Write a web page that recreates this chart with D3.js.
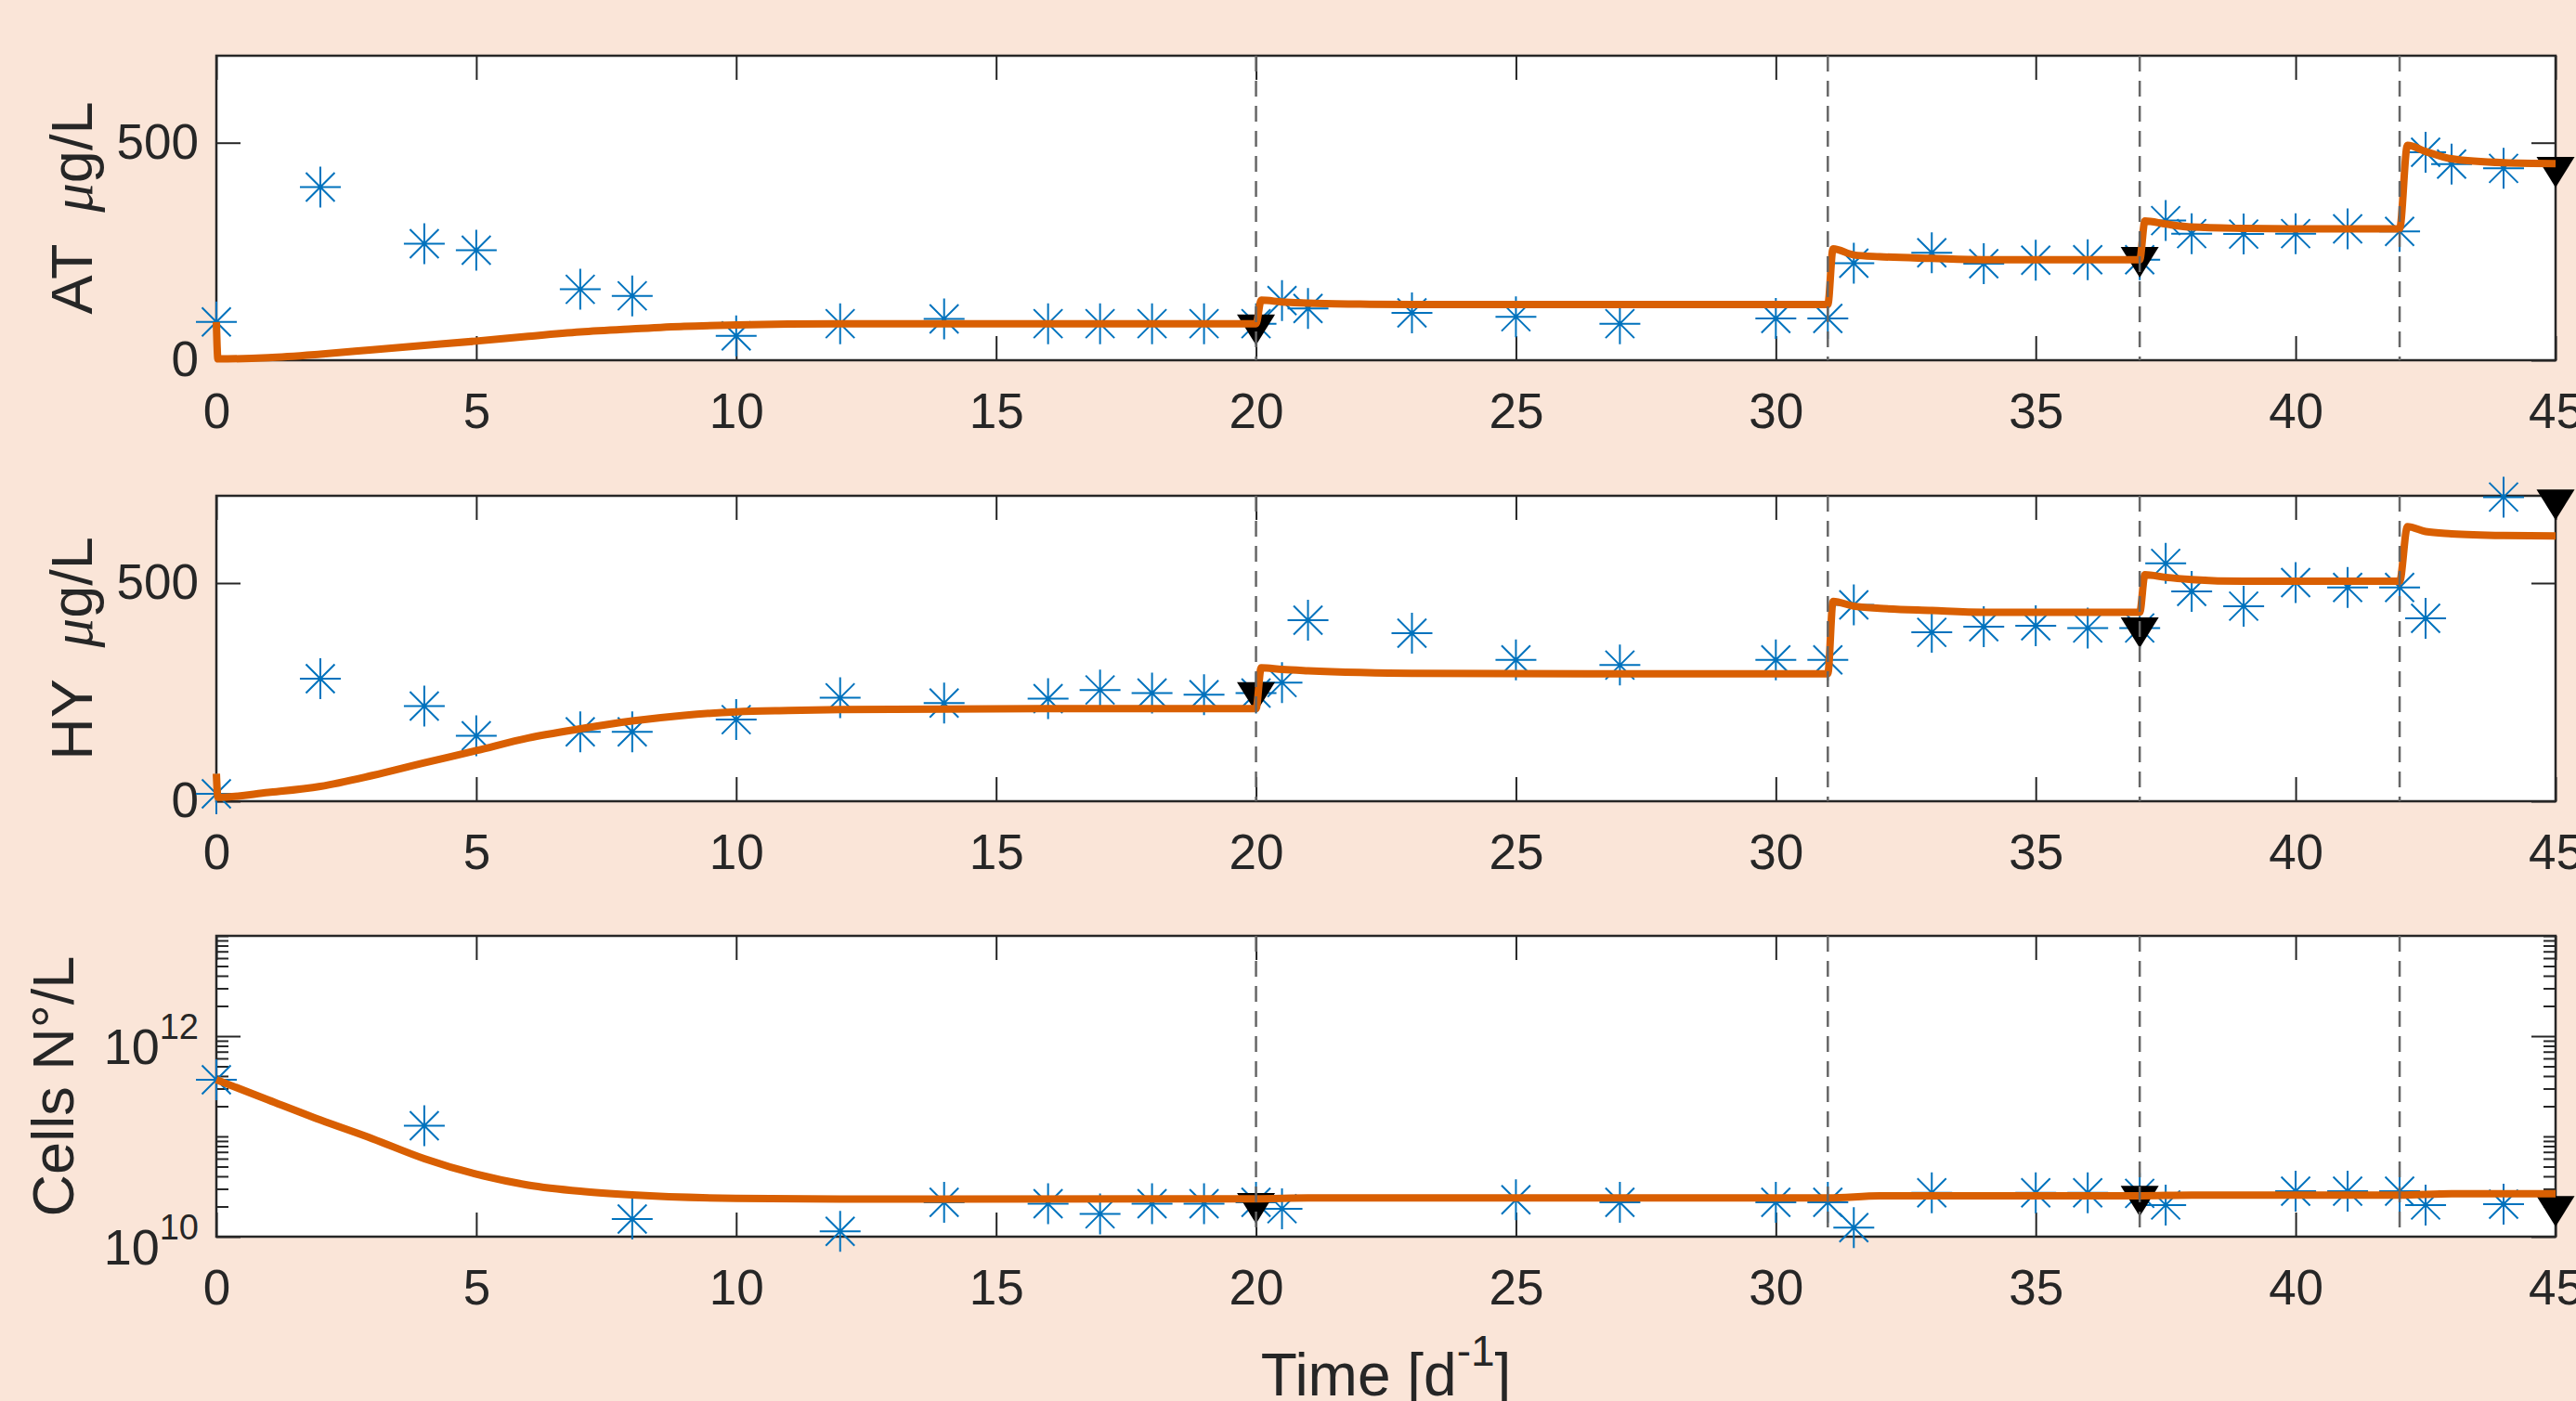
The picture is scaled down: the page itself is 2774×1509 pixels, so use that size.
<!DOCTYPE html>
<html>
<head>
<meta charset="utf-8">
<script src="https://cdn.jsdelivr.net/npm/d3@7"></script>
<style>
    body { margin: 0; background: #fae5d8; }
    svg { display: block; }
</style>
</head>
<body>
<svg id="chart" width="2774" height="1509"></svg>
<script>

// ---- data ----
var xTicks = [0, 5, 10, 15, 20, 25, 30, 35, 40, 45];
var linTicks = [0, 500];
var logTicks = [1e10, 1e12];
var logTickExp = ["10", "12"];

var doseTime = [20, 31, 37, 42];
var harvestTime = [20, 37, 45];

var atTime = [0, 2, 4, 5, 7, 8, 10, 12, 14, 16, 17, 18, 19, 20, 20.5, 21, 23, 25, 27, 30, 31, 31.5, 33, 34, 35, 36, 37, 37.5, 38, 39, 40, 41, 42, 42.5, 43, 44];
var atValue = [88, 398, 268, 253, 163, 148, 56, 84, 95, 84, 84, 84, 84, 84, 137, 119, 109, 100, 84, 96, 96, 223, 247, 222, 230, 231, 231, 321, 291, 290, 291, 302, 296, 478, 451, 441];
var atHarvest = [70, 225, 432];
var atModel = [[0, 88], [0.03, 3], [1, 6], [2, 14], [3, 24], [4, 34], [5, 44], [6, 55], [7, 65], [8, 72], [9, 78], [10, 81], [11, 83], [12, 84], [16, 84], [20, 84],
    [20.1, 138], [20.5, 134], [21, 131], [22, 129], [23, 128], [27, 128], [31, 128],
    [31.1, 256], [31.5, 242], [32, 238], [33, 234], [34, 231], [37, 231],
    [37.1, 320], [37.5, 313], [38, 306], [39, 303], [40, 302], [42, 302],
    [42.15, 494], [42.5, 480], [43, 463], [44, 454], [45, 452]];

var hyTime = [0, 2, 4, 5, 7, 8, 10, 12, 14, 16, 17, 18, 19, 20, 20.5, 21, 23, 25, 27, 30, 31, 31.5, 33, 34, 35, 36, 37, 37.5, 38, 39, 40, 41, 42, 42.5, 44];
var hyValue = [17, 281, 218, 150, 159, 159, 187, 237, 225, 235, 255, 248, 244, 248, 272, 415, 385, 324, 312, 324, 324, 450, 387, 400, 402, 397, 397, 545, 481, 447, 501, 490, 490, 419, 697];
var hyHarvest = [238, 386, 679];
var hyModel = [[0, 63], [0.03, 9], [1, 20], [2, 34], [3, 59], [4, 88], [5, 116], [6, 145], [7, 166], [8, 184], [9, 197], [10, 205], [11, 208], [12, 210], [16, 212], [20, 212],
    [20.1, 306], [20.5, 302], [21, 299], [22, 295], [23, 293], [27, 292], [31, 292],
    [31.1, 458], [31.5, 447], [32, 442], [33, 437], [34, 433], [37, 433],
    [37.1, 519], [37.5, 513], [38, 508], [39, 504], [42, 504],
    [42.15, 629], [42.5, 618], [43, 613], [44, 609], [45, 608]];

var cellTime = [0, 4, 8, 12, 14, 16, 17, 18, 19, 20, 20.5, 25, 27, 30, 31, 31.5, 33, 35, 36, 37, 37.5, 40, 41, 42, 42.5, 44];
var cellValue = [3.67e11, 1.28e11, 1.5e10, 1.13e10, 2.2e10, 2.13e10, 1.69e10, 2.13e10, 2.13e10, 2.2e10, 1.9e10, 2.33e10, 2.2e10, 2.2e10, 2.2e10, 1.23e10, 2.74e10, 2.74e10, 2.74e10, 2.7e10, 2.07e10, 2.84e10, 2.84e10, 2.84e10, 2.07e10, 2.11e10];
var cellHarvest = [1.92e10, 2.26e10, 1.79e10];
var cellModel = [[0, 3.67e11], [1, 2.31e11], [2, 1.46e11], [3, 9.5e10], [4, 6.0e10], [5, 4.2e10], [6, 3.27e10], [7, 2.84e10], [8, 2.61e10], [10, 2.41e10], [12, 2.37e10], [20, 2.38e10],
    [21, 2.43e10], [31, 2.43e10], [32, 2.55e10], [37, 2.56e10], [38, 2.6e10], [42, 2.6e10], [43, 2.68e10], [45, 2.68e10]];

// ---- layout ----
var plotLeft = 233, plotRight = 2752;
var FONT = "'Liberation Sans', Arial, Helvetica, sans-serif";
var INK = "#262626";

var svg = d3.select("#chart");
svg.append("rect").attr("width", 2774).attr("height", 1509).attr("fill", "#fae5d8");

Panel = function(_svg, _opts) {
    this.svg = _svg;
    this.opts = _opts;
    this.initVis();
}

Panel.prototype.initVis = function() {
    var vis = this;
    var o = vis.opts;

    vis.x = d3.scaleLinear().domain([0, 45]).range([plotLeft, plotRight]);
    if (o.log) {
        vis.y = d3.scaleLog().domain(o.domain).range([o.bottom, o.top]);
    } else {
        vis.y = d3.scaleLinear().domain(o.domain).range([o.bottom, o.top]);
    }

    vis.g = vis.svg.append("g");

    // white plot area
    vis.g.append("rect")
        .attr("x", plotLeft).attr("y", o.top)
        .attr("width", plotRight - plotLeft).attr("height", o.bottom - o.top)
        .attr("fill", "#fff");

    vis.drawAxes();
    vis.updateVis();
}

Panel.prototype.drawAxes = function() {
    var vis = this;
    var o = vis.opts;

    function style(sel) {
        sel.selectAll(".domain").remove();
        sel.selectAll(".tick line").attr("stroke", INK).attr("stroke-width", 2);
        sel.attr("font-family", FONT).attr("font-size", 53);
        sel.selectAll("text").attr("fill", INK);
    }

    vis.g.append("g")
        .attr("transform", "translate(0," + o.bottom + ")")
        .call(d3.axisBottom(vis.x).tickValues(xTicks).tickSize(-26).tickPadding(35).tickFormat(d3.format("d")))
        .call(style);

    vis.g.append("g")
        .attr("transform", "translate(0," + o.top + ")")
        .call(d3.axisTop(vis.x).tickValues(xTicks).tickSize(-26).tickFormat(""))
        .call(style);

    if (o.log) {
        var minor = vis.y.ticks().filter(function(d) { return logTicks.indexOf(d) < 0; });

        [d3.axisLeft, d3.axisRight].forEach(function(ax, i) {
            var xpos = i === 0 ? plotLeft : plotRight;
            vis.g.append("g")
                .attr("transform", "translate(" + xpos + ",0)")
                .call(ax(vis.y).tickValues(minor).tickSize(-13).tickFormat(""))
                .call(style);
            vis.g.append("g")
                .attr("transform", "translate(" + xpos + ",0)")
                .call(ax(vis.y).tickValues(logTicks).tickSize(-26).tickFormat(""))
                .call(style);
        });

        // 10^n labels
        var lab = vis.g.selectAll("text.logtick")
            .data(logTicks)
            .enter().append("text")
            .attr("class", "logtick")
            .attr("x", plotLeft - 19)
            .attr("y", function(d) { return vis.y(d) + 30; })
            .attr("text-anchor", "end")
            .attr("font-family", FONT)
            .attr("fill", INK);
        lab.append("tspan").attr("font-size", 54).text("10");
        lab.append("tspan").attr("font-size", 38).attr("dy", -27)
            .text(function(d, i) { return logTickExp[i]; });
    } else {
        vis.g.append("g")
            .attr("transform", "translate(" + plotLeft + ",0)")
            .call(d3.axisLeft(vis.y).tickValues(linTicks).tickSize(-26).tickPadding(19))
            .call(style);
        vis.g.append("g")
            .attr("transform", "translate(" + plotRight + ",0)")
            .call(d3.axisRight(vis.y).tickValues(linTicks).tickSize(-26).tickFormat(""))
            .call(style);
    }

    // box
    vis.g.append("rect")
        .attr("x", plotLeft).attr("y", o.top)
        .attr("width", plotRight - plotLeft).attr("height", o.bottom - o.top)
        .attr("fill", "none").attr("stroke", INK).attr("stroke-width", 2.5);

    // y label
    var yl = vis.g.append("text")
        .attr("transform", "translate(" + o.labelX + "," + ((o.top + o.bottom) / 2) + ") rotate(-90)")
        .attr("text-anchor", "middle")
        .attr("font-family", FONT)
        .attr("font-size", 63)
        .attr("fill", INK)
        .style("white-space", "pre");
    o.label.forEach(function(part) {
        var t = yl.append("tspan").text(part.text);
        if (part.italic) {
            t.attr("font-family", "'Liberation Serif', 'DejaVu Serif', serif").attr("font-style", "italic");
        }
    });
}

Panel.prototype.updateVis = function() {
    var vis = this;
    var o = vis.opts;

    // measured points (asterisks)
    var star = "M-22,0H22M0,-22V22M-15.5,-15.5L15.5,15.5M-15.5,15.5L15.5,-15.5";
    vis.g.append("g").selectAll("path")
        .data(o.time)
        .enter().append("path")
        .attr("d", star)
        .attr("transform", function(d, i) { return "translate(" + vis.x(d) + "," + vis.y(o.value[i]) + ")"; })
        .attr("fill", "none")
        .attr("stroke", "#0072bd")
        .attr("stroke-width", 2);

    // harvest markers (down triangles)
    vis.g.append("g").selectAll("path")
        .data(harvestTime)
        .enter().append("path")
        .attr("d", "M-20.5,-16.5L20.5,-16.5L0,16.5Z")
        .attr("transform", function(d, i) { return "translate(" + vis.x(d) + "," + vis.y(o.harvest[i]) + ")"; })
        .attr("fill", "#000");

    // model curve
    var line = d3.line()
        .x(function(d) { return vis.x(d[0]); })
        .y(function(d) { return vis.y(d[1]); })
        .curve(d3.curveMonotoneX);

    vis.g.append("path")
        .datum(o.model)
        .attr("d", line)
        .attr("fill", "none")
        .attr("stroke", "#d95f02")
        .attr("stroke-width", 8)
        .attr("stroke-linejoin", "round");

    // dose lines
    vis.g.append("g").selectAll("line")
        .data(doseTime)
        .enter().append("line")
        .attr("x1", function(d) { return vis.x(d); })
        .attr("x2", function(d) { return vis.x(d); })
        .attr("y1", o.top)
        .attr("y2", o.bottom)
        .attr("stroke", "#666")
        .attr("stroke-width", 2.5)
        .attr("stroke-dasharray", "17,10");
}

new Panel(svg, {
    top: 60, bottom: 388, domain: [0, 700], labelX: 99,
    label: [{text: "AT  "}, {text: "\u03bc", italic: true}, {text: "g/L"}],
    time: atTime, value: atValue, harvest: atHarvest, model: atModel
});

new Panel(svg, {
    top: 534, bottom: 863, domain: [0, 700], labelX: 99,
    label: [{text: "HY  "}, {text: "\u03bc", italic: true}, {text: "g/L"}],
    time: hyTime, value: hyValue, harvest: hyHarvest, model: hyModel
});

new Panel(svg, {
    top: 1008, bottom: 1332, domain: [1e10, 1e13], log: true, labelX: 79,
    label: [{text: "Cells N\u00b0/L"}],
    time: cellTime, value: cellValue, harvest: cellHarvest, model: cellModel
});

// x label
var xl = svg.append("text")
    .attr("x", (plotLeft + plotRight) / 2)
    .attr("y", 1503)
    .attr("text-anchor", "middle")
    .attr("font-family", FONT)
    .attr("font-size", 64)
    .attr("fill", INK);
xl.append("tspan").text("Time [d");
xl.append("tspan").attr("font-size", 46).attr("dy", -32).text("-1");
xl.append("tspan").attr("dy", 32).text("]");

</script>
</body>
</html>
